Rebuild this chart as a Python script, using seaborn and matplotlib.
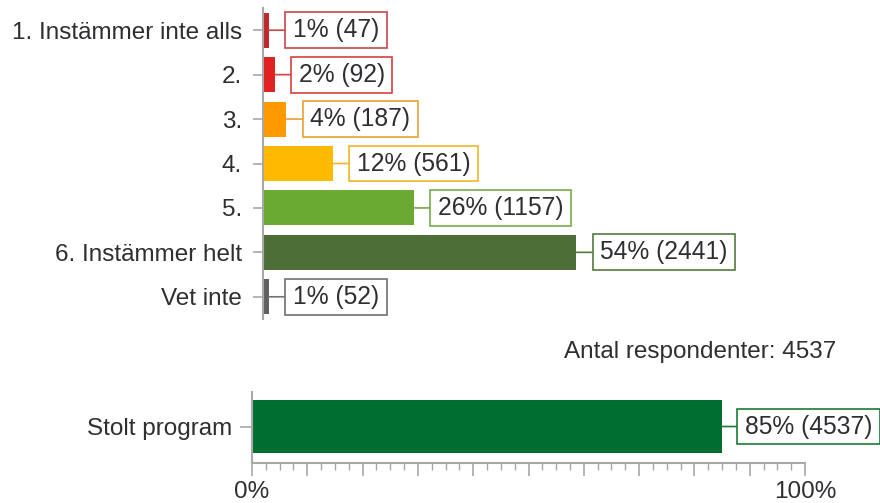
import matplotlib
matplotlib.use("Agg")
import matplotlib.pyplot as plt
from matplotlib.path import Path
from matplotlib.ticker import MultipleLocator, FixedLocator
import seaborn as sns
import pandas as pd

# Survey answers
categories = ["1. Instämmer inte alls", "2.", "3.", "4.", "5.", "6. Instämmer helt", "Vet inte"]
percents = [1, 2, 4, 12, 26, 54, 1]
counts = [47, 92, 187, 561, 1157, 2441, 52]
bar_colors = ["#c1272d", "#e02222", "#ff9900", "#ffb900", "#6aaa32", "#4e6e38", "#606060"]
box_colors = ["#c84646", "#d94040", "#eaa032", "#efb526", "#76ac48", "#557a3e", "#707070"]

total_respondents = 4537

# Summary bar
summary_label = ["Stolt program"]
summary_percent = [85]
summary_count = [4537]
summary_color = ["#006e30"]
summary_box = ["#1a7a3a"]

sns.set_theme(style="white")
plt.rcParams["font.family"] = ["Liberation Sans", "DejaVu Sans"]
FS = 17.5
FS_VAL = 17.75
TXT = "#2e2e33"
AXC = "#a8a8a8"

fig = plt.figure(figsize=(8.8, 5.03), dpi=100)
ax_top = fig.add_axes([263 / 880, 1 - 319 / 503, 580 / 880, 311 / 503])
ax_bot = fig.add_axes([252 / 880, 1 - 463 / 503, 553 / 880, 71 / 503])

df = pd.DataFrame({"svar": categories, "andel": percents, "antal": counts})
sns.barplot(data=df, x="andel", y="svar", hue="svar", palette=bar_colors,
            legend=False, orient="h", ax=ax_top, saturation=1, width=0.79,
            linewidth=0)

dfs = pd.DataFrame({"svar": summary_label, "andel": summary_percent, "antal": summary_count})
sns.barplot(data=dfs, x="andel", y="svar", hue="svar", palette=summary_color,
            legend=False, orient="h", ax=ax_bot, saturation=1, width=0.8,
            linewidth=0)


def value_box(x0, y0, width, height, mutation_size):
    """Rectangle with wider horizontal than vertical padding."""
    px = 0.31 * mutation_size
    py = 0.24 * mutation_size
    x0, y0 = x0 - px, y0 - py
    x1, y1 = x0 + width + 2 * px, y0 + height + 2 * py
    return Path([(x0, y0), (x1, y0), (x1, y1), (x0, y1), (x0, y0)], closed=True)


def label_bars(ax, vals, cnts, edges, offset=24):
    for i, (v, c, e) in enumerate(zip(vals, cnts, edges)):
        ax.annotate(f"{v}% ({c})", xy=(v, i), xytext=(offset, 0),
                    textcoords="offset pixels", ha="left", va="center",
                    fontsize=FS_VAL, color=TXT, annotation_clip=False,
                    bbox=dict(boxstyle=value_box, fc="white", ec=e, lw=1.2),
                    arrowprops=dict(arrowstyle="-", color=e, lw=1.2,
                                    shrinkA=0, shrinkB=0, relpos=(0, 0.5)))


label_bars(ax_top, percents, counts, box_colors)
label_bars(ax_bot, summary_percent, summary_count, summary_box, offset=23)

# Top panel axes
ax_top.set_xlim(0, 100)
ax_top.set_ylim(len(categories) - 0.5, -0.5)
ax_top.set_xlabel("")
ax_top.set_ylabel("")
ax_top.set_xticks([])
for s in ["top", "right", "bottom"]:
    ax_top.spines[s].set_visible(False)
ax_top.spines["left"].set_color(AXC)
ax_top.spines["left"].set_linewidth(1.5)
ax_top.tick_params(axis="y", left=True, length=7, width=1.2, color=AXC,
                   labelsize=FS, labelcolor=TXT, pad=8)

# Bottom panel axes
ax_bot.set_xlim(0, 100)
ax_bot.set_ylim(0.56, -0.53)
ax_bot.set_xlabel("")
ax_bot.set_ylabel("")
ax_bot.xaxis.set_major_locator(FixedLocator(list(range(0, 101, 10))))
ax_bot.xaxis.set_minor_locator(MultipleLocator(2.5))
ax_bot.set_xticklabels(["0%"] + [""] * 9 + ["100%"])
for s in ["top", "right"]:
    ax_bot.spines[s].set_visible(False)
for s in ["left", "bottom"]:
    ax_bot.spines[s].set_color(AXC)
    ax_bot.spines[s].set_linewidth(1.5)
ax_bot.tick_params(axis="x", which="major", bottom=True, length=9, width=1.2,
                   color=AXC, labelsize=FS, labelcolor=TXT, pad=4)
ax_bot.tick_params(axis="x", which="minor", bottom=True, length=5, width=1.0, color=AXC)
ax_bot.tick_params(axis="y", left=True, length=9, width=1.2, color=AXC,
                   labelsize=FS, labelcolor=TXT, pad=5)

fig.text(836 / 880, 1 - 352 / 503, f"Antal respondenter: {total_respondents}",
         ha="right", va="center", fontsize=FS, color=TXT)

fig.savefig("out.png", dpi=100, facecolor="white")
